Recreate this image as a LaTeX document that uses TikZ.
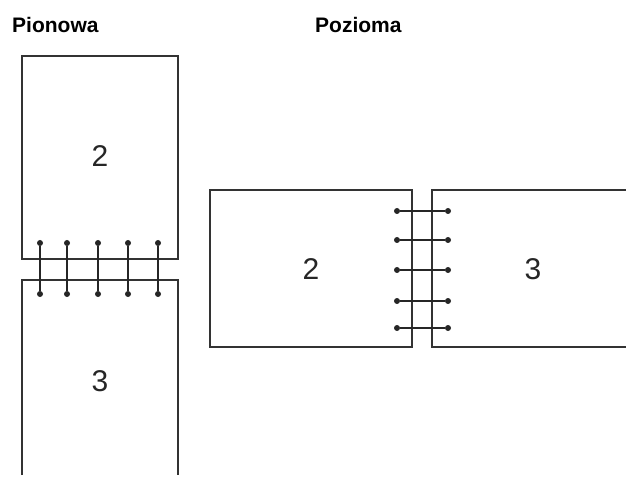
\documentclass[tikz,border=0pt]{standalone}
\usepackage{fontspec}
\setmainfont{Liberation Sans}
\usetikzlibrary{positioning}

\begin{document}
\begin{tikzpicture}[
  x=1pt, y=-1pt,
  page/.style={draw=black!80, line width=1.2pt},
  title/.style={font=\fontsize{21}{25}\selectfont\bfseries, anchor=base west, inner sep=0pt},
  pagenum/.style={font=\fontsize{30}{36}\selectfont, text=black!85, inner sep=0pt},
  hole/.style={circle, fill=black!85, inner sep=0pt, minimum size=6pt},
  staple/.style={draw=black!85, line width=2pt},
]
  \useasboundingbox (0,0) rectangle (626,478);

  % -- titles --
  \node[title] (tport) at (12,33) {Pionowa};
  \node[title] (tland) at (315,33) {Pozioma};

  % -- portrait pages --
  \draw[page] (22,56) rectangle (178,259);
  \draw[page] (22,475) -- (22,280) -- (178,280) -- (178,475);
  \node[pagenum] (pn2) at (100,156) {2};
  \node[pagenum] (pn3) at (100,381) {3};

  % -- landscape pages --
  \draw[page] (210,190) rectangle (412,347);
  \draw[page] (626,190) -- (432,190) -- (432,347) -- (626,347);
  \node[pagenum] (ln2) at (311,269) {2};
  \node[pagenum] (ln3) at (533,269) {3};

  % -- portrait staples --
  \foreach \x [count=\i] in {40,67,98,128,158} {
    \node[hole] (pt\i) at (\x,243) {};
    \node[hole] (pb\i) at (\x,294) {};
    \draw[staple] (pt\i) -- (pb\i);
  }

  % -- landscape staples --
  \foreach \y [count=\i] in {211,240,270,301,328} {
    \node[hole] (ll\i) at (397,\y) {};
    \node[hole] (lr\i) at (448,\y) {};
    \draw[staple] (ll\i) -- (lr\i);
  }
\end{tikzpicture}
\end{document}
